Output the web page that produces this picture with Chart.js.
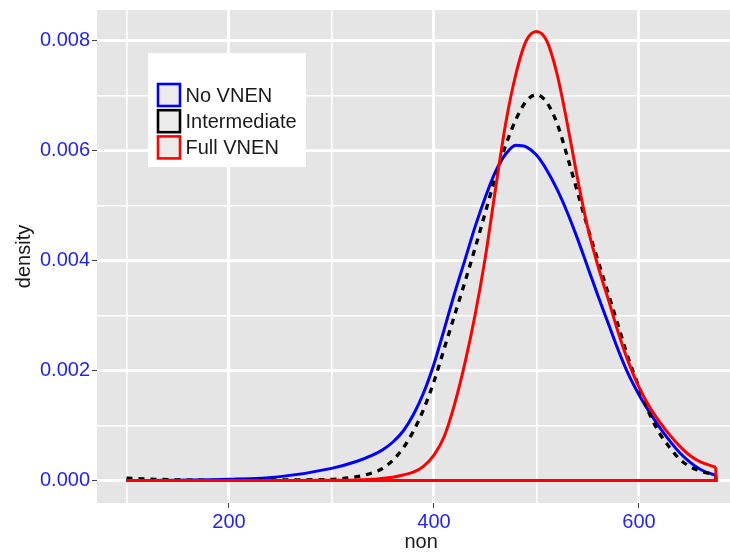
<!DOCTYPE html>
<html>
<head>
<meta charset="utf-8">
<script src="https://cdn.jsdelivr.net/npm/chart.js@4"></script>
<style>
  html, body { margin: 0; padding: 0; background: #fff; }
  #wrap { width: 730px; height: 555px; }
</style>
</head>
<body>
<div id="wrap"><canvas id="grafico"></canvas></div>
<script>
// valores de "non" (eixo x) onde as curvas foram lidas
const pontosX = [100, 150, 200, 250, 300, 325, 340, 350, 360, 370, 380, 390,
                 400, 410, 420, 430, 440, 450, 460, 470, 480, 490,
                 500, 510, 520, 530, 540, 550, 560, 570, 580, 590,
                 600, 610, 620, 630, 640, 650, 660, 675];

// densidades
const semVnen = [0, 0.000005, 0.00002, 0.00007, 0.00022, 0.00035, 0.00046, 0.00056, 0.0007, 0.0009, 0.0012, 0.0016,
                 0.00212, 0.00275, 0.0034, 0.0040, 0.00461, 0.00515, 0.00562, 0.00594, 0.0061, 0.00607,
                 0.00592, 0.00565, 0.0053, 0.00488, 0.0044, 0.00388, 0.00336, 0.00286, 0.00236, 0.00192,
                 0.00156, 0.00125, 0.00097, 0.00072, 0.0005, 0.00033, 0.0002, 0.00009];

const intermediario = [0.00004, 0.00001, 0, 0.00001, 0.00002, 0.00007, 0.00014, 0.00022, 0.00037, 0.00059, 0.0009, 0.0013,
                       0.0018, 0.0024, 0.003, 0.0036, 0.00422, 0.00487, 0.00552, 0.0061, 0.00657, 0.0069,
                       0.00702, 0.00688, 0.0065, 0.0059, 0.00525, 0.0046, 0.0040, 0.0034, 0.0028, 0.0022,
                       0.0017, 0.00122, 0.00086, 0.0006, 0.00038, 0.00025, 0.00017, 0.0001];

const vnenCompleto = [0, 0, 0, 0, 0.000005, 0.00001, 0.00002, 0.00004, 0.00006, 0.0001, 0.00015, 0.00026,
                      0.00046, 0.0008, 0.00138, 0.00212, 0.0030, 0.00405, 0.0053, 0.0065, 0.0074, 0.0080,
                      0.00817, 0.0080, 0.0074, 0.0065, 0.0055, 0.0046, 0.0039, 0.0033, 0.00268, 0.00214,
                      0.0017, 0.00135, 0.00107, 0.00083, 0.00062, 0.00045, 0.00034, 0.00024];

const nomesSeries = ['No VNEN', 'Intermediate', 'Full VNEN'];

// marcas dos eixos
const ticksX = [200, 400, 600];
const ticksXMenores = [100, 300, 500, 700];
const ticksY = [0, 0.002, 0.004, 0.006, 0.008];
const ticksYMenores = [0.001, 0.003, 0.005, 0.007];

const cores = ['#0000ff', '#000000', '#ff0000'];
const fonte = "'Liberation Sans', Arial, Helvetica, sans-serif";

// limites do painel (faixa completa do ggplot, cortada à direita na imagem)
const xMin = 71.25, xMaxPainel = 703.75;

// junta x e y em pontos
function montarPontos(valores) {
    return pontosX.map((x, i) => ({ x: x, y: valores[i] }));
}

// fecha a curva de densidade (desce até zero no fim e volta pela base)
function fechamento(valores) {
    const ultimo = pontosX.length - 1;
    return [
        { x: pontosX[ultimo], y: valores[ultimo] },
        { x: pontosX[ultimo], y: 0 },
        { x: pontosX[0], y: 0 }
    ];
}

function montarTicks(principais, menores) {
    return principais.map(v => ({ value: v, principal: true }))
        .concat(menores.map(v => ({ value: v, principal: false })))
        .sort((a, b) => a.value - b.value);
}

const series = [vnenCompleto, intermediario, semVnen];
const ordemCores = [cores[2], cores[1], cores[0]];
const datasets = [];
series.forEach((valores, i) => {
    const preto = ordemCores[i] === '#000000';
    const tracejado = preto ? [6, 6] : [];
    datasets.push({
        label: nomesSeries[2 - i],
        data: montarPontos(valores),
        borderColor: ordemCores[i],
        borderWidth: preto ? 3.3 : 3,
        borderDash: tracejado,
        pointRadius: 0,
        cubicInterpolationMode: 'monotone',
        fill: false,
        order: i * 2
    });
    datasets.push({
        label: nomesSeries[2 - i] + ' base',
        data: fechamento(valores),
        borderColor: ordemCores[i],
        borderWidth: 3,
        borderDash: tracejado,
        pointRadius: 0,
        tension: 0,
        fill: false,
        order: i * 2 + 1
    });
});

// fundo cinza do painel
const fundoPainel = {
    id: 'fundoPainel',
    beforeDraw(chart) {
        const { ctx, chartArea } = chart;
        ctx.save();
        ctx.fillStyle = '#e5e5e5';
        ctx.fillRect(chartArea.left, chartArea.top, chartArea.right - chartArea.left, chartArea.bottom - chartArea.top);
        ctx.restore();
    }
};

// legenda no estilo ggplot, dentro do painel, e título do eixo x
const legendaPainel = {
    id: 'legendaPainel',
    afterDraw(chart) {
        const { ctx, chartArea } = chart;
        const caixaX = chartArea.left + 51;
        const caixaY = chartArea.top + 43;
        ctx.save();
        ctx.fillStyle = '#ffffff';
        ctx.fillRect(caixaX, caixaY, 158, 114);
        ctx.font = '20px ' + fonte;
        ctx.textBaseline = 'middle';
        ctx.textAlign = 'left';
        nomesSeries.forEach((nome, i) => {
            const kx = caixaX + 10;
            const ky = caixaY + 31 + i * 26.2;
            ctx.fillStyle = '#ebebeb';
            ctx.fillRect(kx, ky, 22, 22);
            ctx.strokeStyle = cores[i];
            ctx.lineWidth = 2.6;
            ctx.strokeRect(kx, ky, 22, 22);
            ctx.fillStyle = '#1a1a1a';
            ctx.fillText(nome, caixaX + 37.5, ky + 12.5);
        });
        // título do eixo x centrado no painel completo
        const centro = chart.scales.x.getPixelForValue((xMin + xMaxPainel) / 2);
        ctx.textAlign = 'center';
        ctx.fillText('non', centro, 542);
        ctx.restore();
    }
};

function opcoesGrade() {
    return {
        color: '#ffffff',
        lineWidth: ctx => (ctx.tick && ctx.tick.principal ? 3 : 1.6),
        tickColor: ctx => (ctx.tick && ctx.tick.principal ? '#444444' : 'rgba(0,0,0,0)'),
        tickWidth: 1,
        tickLength: 5,
        drawTicks: true
    };
}

new Chart(document.getElementById('grafico'), {
    type: 'line',
    data: { datasets: datasets },
    options: {
        responsive: true,
        maintainAspectRatio: false,
        animation: false,
        layout: { padding: { top: 10, right: 0, left: 0, bottom: 0 } },
        plugins: {
            legend: { display: false },
            tooltip: { enabled: false }
        },
        scales: {
            x: {
                type: 'linear',
                min: xMin,
                max: 688.8,
                border: { display: false },
                grid: opcoesGrade(),
                afterBuildTicks: escala => { escala.ticks = montarTicks(ticksX, ticksXMenores); },
                afterFit: escala => {
                    escala.height = 52;
                    escala.paddingLeft = 0;
                    escala.paddingRight = 0;
                },
                ticks: {
                    autoSkip: false,
                    maxRotation: 0,
                    padding: 2,
                    color: '#1f1fff',
                    font: { family: fonte, size: 20 },
                    callback: function (valor, indice, ticks) {
                        return ticks[indice].principal ? String(valor) : '';
                    }
                }
            },
            y: {
                type: 'linear',
                min: -0.00041,
                max: 0.00856,
                border: { display: false },
                grid: opcoesGrade(),
                afterBuildTicks: escala => { escala.ticks = montarTicks(ticksY, ticksYMenores); },
                afterFit: escala => {
                    escala.width = 97;
                    escala.paddingTop = 0;
                    escala.paddingBottom = 0;
                },
                ticks: {
                    autoSkip: false,
                    padding: 2,
                    color: '#1f1fff',
                    font: { family: fonte, size: 20 },
                    callback: function (valor, indice, ticks) {
                        return ticks[indice].principal ? valor.toFixed(3) : '';
                    }
                },
                title: {
                    display: true,
                    text: 'density',
                    color: '#1a1a1a',
                    font: { family: fonte, size: 20 },
                    padding: { top: 12, bottom: 0 }
                }
            }
        }
    },
    plugins: [fundoPainel, legendaPainel]
});
</script>
</body>
</html>
